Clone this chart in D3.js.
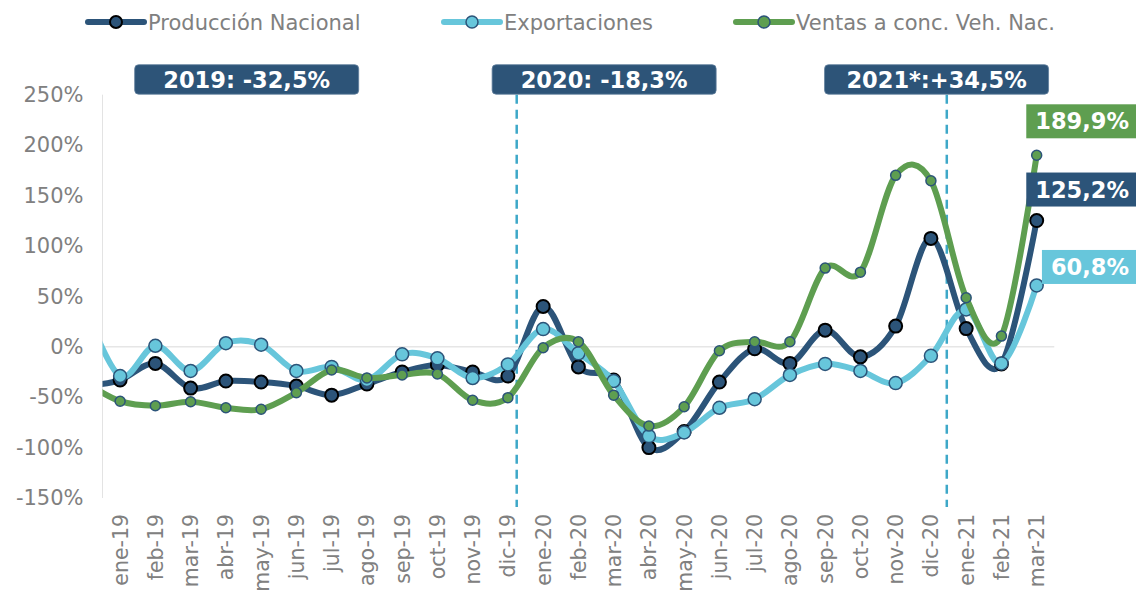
<!DOCTYPE html>
<html>
<head>
<meta charset="utf-8">
<script src="https://cdn.jsdelivr.net/npm/d3@7"></script>
<style>
  body { margin: 0; background: #fff; }
  text { font-family: Verdana, "DejaVu Sans", sans-serif; }
</style>
</head>
<body>
<div id="container"></div>
<script>
/* DATA */
const months = ["ene-19","feb-19","mar-19","abr-19","may-19","jun-19","jul-19","ago-19","sep-19","oct-19","nov-19","dic-19",
                "ene-20","feb-20","mar-20","abr-20","may-20","jun-20","jul-20","ago-20","sep-20","oct-20","nov-20","dic-20",
                "ene-21","feb-21","mar-21"];
const produccion    = [-33,-16.5,-41,-34,-35,-39,-48,-37,-25,-18,-25,-29,40,-20,-33,-100,-84,-35,-2,-16.5,16.5,-10,20.5,107.5,18,-17,125.2];
const exportaciones = [-29,1,-24,3.5,2,-24,-20,-33,-7.5,-11.5,-31,-17.5,17.5,-6.5,-34,-88.6,-85,-60.5,-52,-28,-17,-24,-36,-9,37,-16.5,60.8];
const ventas        = [-54,-58.5,-54.5,-60.5,-62,-45.5,-23,-31,-28,-27,-53,-50.5,-1,5,-48,-78.7,-59.5,-4,5,5,78,74,170,164.7,48.6,10.6,189.9];
// dic-18 values, only the piece of curve leading into ene-19 is visible
const previous      = {produccion: -39, exportaciones: 40, ventas: -35};
const yTicks = [-150,-100,-50,0,50,100,150,200,250];
const yearLabels = ["2019: -32,5%", "2020: -18,3%", "2021*:+34,5%"];

/* LAYOUT */
const W = 1136, H = 591;
const margin = {top: 94.7, right: 81.7, bottom: 93, left: 102.5};
const width = W - margin.left - margin.right;
const height = H - margin.top - margin.bottom;

const series = [
  {key: "produccion", name: "Producción Nacional", values: produccion, color: "#2C5479",
   r: 6.5, mFill: "#2C5479", mStroke: "#000", mWidth: 2, labelDy: -31, lw: 6},
  {key: "exportaciones", name: "Exportaciones", values: exportaciones, color: "#67C6DB",
   r: 6.5, mFill: "#67C6DB", mStroke: "#2C5479", mWidth: 1.5, labelDy: -18.5, lw: 6},
  {key: "ventas", name: "Ventas a conc. Veh. Nac.", values: ventas, color: "#5E9E50",
   r: 5, mFill: "#5E9E50", mStroke: "#2C5479", mWidth: 1.5, labelDy: -34, lw: 6}
];

const svg = d3.select("#container").append("svg")
  .attr("width", W).attr("height", H);

const g = svg.append("g")
  .attr("transform", "translate(" + margin.left + "," + margin.top + ")");

const x = d3.scaleBand().domain(months).range([0, width]);
const cx = m => x(m) + x.bandwidth() / 2;
const xi = i => cx(months[0]) + i * x.step();   // fractional category position
const y = d3.scaleLinear().domain([-150, 250]).range([height, 0]);

// left axis line
g.append("line")
  .attr("x1", 0).attr("x2", 0).attr("y1", 0).attr("y2", height)
  .attr("stroke", "#E3E3E3").attr("stroke-width", 1);

// y axis labels
g.append("g")
  .call(d3.axisLeft(y).tickValues(yTicks).tickFormat(d => d + "%").tickSize(0).tickPadding(19))
  .call(a => a.select(".domain").remove())
  .selectAll("text")
    .style("font-size", "21px")
    .style("fill", "#808080");

// zero line = category axis
g.append("line")
  .attr("x1", 0).attr("x2", width).attr("y1", y(0)).attr("y2", y(0))
  .attr("stroke", "#E6E6E6").attr("stroke-width", 1.5);

// x labels (low position)
g.append("g").selectAll("text")
  .data(months)
  .join("text")
    .attr("transform", d => "translate(" + cx(d) + "," + (height + 16) + ") rotate(-90)")
    .attr("dy", "0.36em")
    .attr("text-anchor", "end")
    .style("font-size", "20.5px")
    .style("fill", "#808080")
    .text(d => d);

// dashed year separators
const separators = [11.25, 23.45];
g.selectAll("line.sep")
  .data(separators)
  .join("line")
    .attr("class", "sep")
    .attr("x1", d => xi(d)).attr("x2", d => xi(d))
    .attr("y1", 0).attr("y2", height + 9)
    .attr("stroke", "#3EA8C8").attr("stroke-width", 2.5)
    .attr("stroke-dasharray", "9,6");

// year boxes
const yearCenters = [3.59, 13.73, 23.16];
const yb = g.selectAll("g.year")
  .data(yearLabels)
  .join("g")
    .attr("class", "year")
    .attr("transform", (d, i) => "translate(" + xi(yearCenters[i]) + ",-15)");
yb.append("rect")
  .attr("x", -112).attr("y", -15).attr("width", 224).attr("height", 29.5)
  .attr("rx", 4)
  .attr("fill", "#2D5478").attr("stroke", "#5F7E9C").attr("stroke-width", 0.8);
yb.append("text")
  .attr("text-anchor", "middle")
  .attr("dy", "0.36em")
  .style("font-size", "22.5px")
  .style("font-weight", "bold")
  .style("fill", "#fff")
  .text(d => d);

// lines
svg.append("clipPath").attr("id", "plotclip")
  .append("rect").attr("x", 0).attr("y", -margin.top).attr("width", W).attr("height", H);

const line = d3.line()
  .x(d => d.x).y(d => y(d.v))
  .curve(d3.curveCardinal.tension(0));

series.forEach(s => {
  const pts = [{x: xi(-1), v: previous[s.key]}]
    .concat(s.values.map((v, i) => ({x: cx(months[i]), v: v})));
  const sg = g.append("g");
  sg.append("path")
    .datum(pts)
    .attr("clip-path", "url(#plotclip)")
    .attr("fill", "none")
    .attr("stroke", s.color)
    .attr("stroke-width", s.lw)
    .attr("stroke-linecap", "round")
    .attr("d", line);
  sg.selectAll("circle")
    .data(pts.slice(1))
    .join("circle")
      .attr("cx", d => d.x).attr("cy", d => y(d.v))
      .attr("r", s.r)
      .attr("fill", s.mFill)
      .attr("stroke", s.mStroke)
      .attr("stroke-width", s.mWidth);
});

// end value labels
series.forEach(s => {
  const last = s.values[s.values.length - 1];
  const lg = g.append("g")
    .attr("transform", "translate(" + (W - margin.left - 7) + "," + (y(last) + s.labelDy) + ")");
  const r = lg.append("rect").attr("fill", s.color);
  const t = lg.append("text")
    .attr("text-anchor", "end")
    .attr("dy", "0.36em")
    .style("font-size", "22.5px")
    .style("font-weight", "bold")
    .style("fill", "#fff")
    .text(last.toFixed(1).replace(".", ",") + "%");
  const tw = t.node().getComputedTextLength();
  r.attr("x", -tw - 9).attr("y", -17).attr("width", tw + 20).attr("height", 34);
});

// legend
const legendX = [88, 444, 736];
const lgd = svg.append("g").selectAll("g")
  .data(series)
  .join("g")
    .attr("transform", (d, i) => "translate(" + legendX[i] + ",22)");
lgd.append("line")
  .attr("x1", 0).attr("x2", 56)
  .attr("stroke", d => d.color).attr("stroke-width", 6).attr("stroke-linecap", "round");
lgd.append("circle")
  .attr("cx", 28).attr("r", 6)
  .attr("fill", d => d.mFill).attr("stroke", d => d.mStroke).attr("stroke-width", d => d.mWidth);
lgd.append("text")
  .attr("x", 60).attr("dy", "0.36em")
  .style("font-size", "21px")
  .style("fill", "#808080")
  .text(d => d.name);
</script>
</body>
</html>
